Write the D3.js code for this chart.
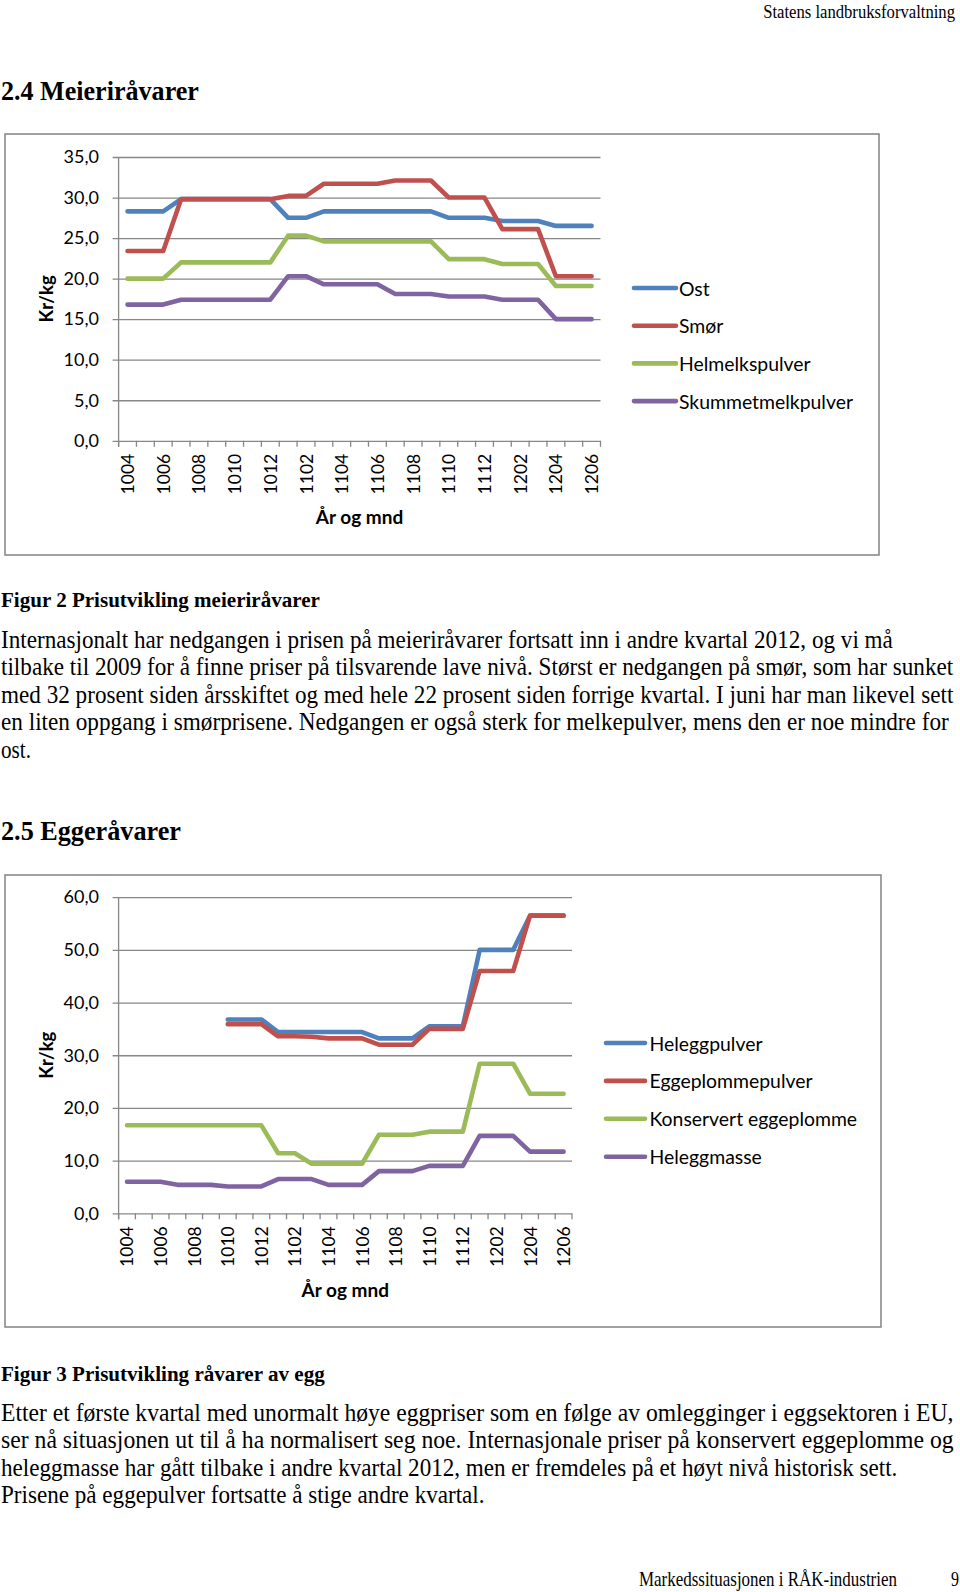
<!DOCTYPE html>
<html>
<head>
<meta charset="utf-8">
<script src="https://cdn.jsdelivr.net/npm/d3@7"></script>
<style>
html,body{margin:0;padding:0;background:#fff;}
svg{display:block;}
</style>
</head>
<body>
<div id="page"></div>
<script>
// ---------- DATA ----------
const months = ["1004","1005","1006","1007","1008","1009","1010","1011","1012",
  "1101","1102","1103","1104","1105","1106","1107","1108","1109","1110","1111","1112",
  "1201","1202","1203","1204","1205","1206"];
const tickLabels = ["1004","1006","1008","1010","1012","1102","1104","1106","1108","1110","1112","1202","1204","1206"];

// Figur 2 – meieriråvarer (Kr/kg)
const dairyNames = ["Ost","Smør","Helmelkspulver","Skummetmelkpulver"];
const ost      = [28.3,28.3,28.3,29.8,29.8,29.8,29.8,29.8,29.8,27.5,27.5,28.3,28.3,28.3,28.3,28.3,28.3,28.3,27.5,27.5,27.5,27.1,27.1,27.1,26.5,26.5,26.5];
const smor     = [23.4,23.4,23.4,29.8,29.8,29.8,29.8,29.8,29.8,30.2,30.2,31.7,31.7,31.7,31.7,32.1,32.1,32.1,30.0,30.0,30.0,26.1,26.1,26.1,20.3,20.3,20.3];
const helmelk  = [20.0,20.0,20.0,22.0,22.0,22.0,22.0,22.0,22.0,25.3,25.3,24.6,24.6,24.6,24.6,24.6,24.6,24.6,22.4,22.4,22.4,21.8,21.8,21.8,19.1,19.1,19.1];
const skummet  = [16.8,16.8,16.8,17.4,17.4,17.4,17.4,17.4,17.4,20.3,20.3,19.3,19.3,19.3,19.3,18.1,18.1,18.1,17.8,17.8,17.8,17.4,17.4,17.4,15.0,15.0,15.0];
const dairyTicks = [0,5,10,15,20,25,30,35];

// Figur 3 – råvarer av egg (Kr/kg)
const eggNames = ["Heleggpulver","Eggeplommepulver","Konservert eggeplomme","Heleggmasse"];
const heleggpulver = [null,null,null,null,null,null,36.8,36.8,36.8,34.4,34.4,34.4,34.4,34.4,34.4,33.2,33.2,33.2,35.5,35.5,35.5,50.0,50.0,50.0,56.5,56.5,56.5];
const eggeplomme   = [null,null,null,null,null,null,35.9,35.9,35.9,33.6,33.6,33.5,33.2,33.2,33.2,32.0,32.0,32.0,35.0,35.0,35.0,46.0,46.0,46.0,56.5,56.5,56.5];
const konservert   = [16.7,16.7,16.7,16.7,16.7,16.7,16.7,16.7,16.7,11.4,11.4,9.4,9.4,9.4,9.4,14.9,14.9,14.9,15.5,15.5,15.5,28.4,28.4,28.4,22.7,22.7,22.7];
const heleggmasse  = [6.0,6.0,6.0,5.4,5.4,5.4,5.1,5.1,5.1,6.5,6.5,6.5,5.4,5.4,5.4,8.0,8.0,8.0,9.0,9.0,9.0,14.7,14.7,14.7,11.7,11.7,11.7];
const eggTicks = [0,10,20,30,40,50,60];

const colors = ["#4F81BD","#C0504D","#9BBB59","#8064A2"];
const yTitle = "Kr/kg";
const xTitle = "År og mnd";

// ---------- PAGE ----------
const svg = d3.select("#page").append("svg").attr("width",960).attr("height",1592);
svg.append("rect").attr("width",960).attr("height",1592).attr("fill","#fff");

const serif = "'Liberation Serif','Times New Roman',serif";
const sans = "Lato,'Liberation Sans',sans-serif";

// Text drawn with a font size that gives the wanted width, then stretched
// vertically to the wanted glyph height (the page is a vertically stretched scan).
function txt(s, x, y, hSize, opts={}) {
  const t = svg.append("text").attr("x",0).attr("y",0)
    .attr("font-family", opts.family || serif)
    .attr("font-size", hSize)
    .attr("font-weight", opts.bold ? "bold" : "normal")
    .attr("fill","#000")
    .attr("text-anchor", opts.anchor || "start")
    .text(s);
  let fs = hSize;
  if (opts.len) {
    const w = t.node().getComputedTextLength();
    fs = hSize * opts.len / w;
    t.attr("font-size", fs);
  }
  t.attr("transform", `translate(${x},${y}) scale(1,${hSize/fs})`);
  return t;
}

// header / headings
txt("Statens landbruksforvaltning", 955, 18, 18, {anchor:"end", len:192});
txt("2.4  Meieriråvarer", 1, 100, 28, {bold:true, len:198});

// ---------- CHART FUNCTION ----------
function drawChart(cfg) {
  const g = svg.append("g");
  g.append("rect").attr("x",cfg.frame[0]).attr("y",cfg.frame[1])
    .attr("width",cfg.frame[2]-cfg.frame[0]).attr("height",cfg.frame[3]-cfg.frame[1])
    .attr("fill","#fff").attr("stroke","#8a8a8a").attr("stroke-width",1.6);

  const x = d3.scaleBand().domain(months).range([cfg.x0,cfg.x1]);
  const y = d3.scaleLinear().domain([0,d3.max(cfg.ticks)]).range([cfg.yb,cfg.yt]);
  const fmt = v => d3.format(".1f")(v).replace(".",",");

  // gridlines + y axis
  const yAxis = d3.axisLeft(y).tickValues(cfg.ticks).tickFormat(fmt)
    .tickSize(-(cfg.x1-cfg.x0)).tickSizeOuter(0).tickPadding(13);
  const ya = g.append("g").attr("transform",`translate(${cfg.x0},0)`).call(yAxis);
  ya.select(".domain").remove();
  ya.selectAll(".tick line").attr("stroke","#878787").attr("stroke-width",1.3).attr("x1",-6);
  ya.selectAll(".tick text").attr("font-family",sans).attr("font-size",18).attr("fill","#000")
    .attr("x",-19.6);
  g.append("line").attr("x1",cfg.x0).attr("x2",cfg.x0).attr("y1",cfg.yt).attr("y2",cfg.yb+6)
    .attr("stroke","#878787").attr("stroke-width",1.3);

  // x tick marks at category boundaries
  const bounds = months.map(m => x(m)).concat([cfg.x1]);
  g.selectAll("line.xt").data(bounds).enter().append("line")
    .attr("x1",d=>d).attr("x2",d=>d).attr("y1",cfg.yb).attr("y2",cfg.yb+6)
    .attr("stroke","#878787").attr("stroke-width",1.3);

  // x labels
  g.selectAll("text.xl").data(tickLabels).enter().append("text")
    .attr("transform",d=>`translate(${x(d)+x.bandwidth()/2},${cfg.yb+13}) rotate(-90)`)
    .attr("text-anchor","end").attr("dominant-baseline","central")
    .attr("font-family",sans).attr("font-size",17.5).attr("fill","#000").text(d=>d);

  // titles
  g.append("text").attr("transform",`translate(46,${(cfg.yt+cfg.yb)/2}) rotate(-90)`)
    .attr("text-anchor","middle").attr("dominant-baseline","central")
    .attr("font-family",sans).attr("font-weight","bold").attr("font-size",18.5).text(yTitle);
  g.append("text").attr("x",(cfg.x0+cfg.x1)/2).attr("y",cfg.yb+76)
    .attr("text-anchor","middle").attr("dominant-baseline","central")
    .attr("font-family",sans).attr("font-weight","bold").attr("font-size",19).text(xTitle);

  // series
  const line = d3.line().defined(d=>d.v!=null)
    .x(d=>x(d.m)+x.bandwidth()/2).y(d=>y(d.v));
  cfg.series.forEach((s,i)=>{
    g.append("path").datum(s.values.map((v,j)=>({m:months[j],v})))
      .attr("d",line).attr("fill","none").attr("stroke",colors[i])
      .attr("stroke-width",4.6).attr("stroke-linecap","round").attr("stroke-linejoin","round");
  });

  // legend
  cfg.series.forEach((s,i)=>{
    const ly = cfg.lg.y0 + i*cfg.lg.dy;
    g.append("line").attr("x1",cfg.lg.x0).attr("x2",cfg.lg.x1).attr("y1",ly).attr("y2",ly)
      .attr("stroke",colors[i]).attr("stroke-width",4.6).attr("stroke-linecap","round");
    g.append("text").attr("x",cfg.lg.tx).attr("y",ly).attr("dominant-baseline","central")
      .attr("font-family",sans).attr("font-size",19.4).attr("fill","#000").text(s.name);
  });
}

drawChart({
  frame:[5,134,879,555],
  x0:118.6, x1:600.5, yt:157, yb:440.8,
  ticks:dairyTicks,
  series:[ost,smor,helmelk,skummet].map((v,i)=>({name:dairyNames[i],values:v})),
  lg:{x0:634,x1:676,tx:679,y0:288,dy:37.7}
});

// Figure 2 caption and text
txt("Figur 2 Prisutvikling meieriråvarer", 1, 607, 21.5, {bold:true, len:319});
const para1 = [
  ["Internasjonalt har nedgangen i prisen på meieriråvarer fortsatt inn i andre kvartal 2012, og vi må", 892],
  ["tilbake til 2009 for å finne priser på tilsvarende lave nivå. Størst er nedgangen på smør, som har sunket", 953],
  ["med 32 prosent siden årsskiftet og med hele 22 prosent siden forrige kvartal. I juni har man likevel sett", 953],
  ["en liten oppgang i smørprisene. Nedgangen er også sterk for melkepulver, mens den er noe mindre for", 948],
  ["ost.", 30]
];
para1.forEach((l,i)=> txt(l[0], 1, 648 + i*27.4, 24.5, {len:l[1]}));

txt("2.5  Eggeråvarer", 1, 840, 28, {bold:true, len:180});

drawChart({
  frame:[5,875,881,1327],
  x0:118.6, x1:572, yt:897.2, yb:1213.3,
  ticks:eggTicks,
  series:[heleggpulver,eggeplomme,konservert,heleggmasse].map((v,i)=>({name:eggNames[i],values:v})),
  lg:{x0:606,x1:645,tx:649.5,y0:1043,dy:37.9}
});

txt("Figur 3 Prisutvikling råvarer av egg", 1, 1381, 21.5, {bold:true, len:324});
const para2 = [
  ["Etter et første kvartal med unormalt høye eggpriser som en følge av omlegginger i eggsektoren i EU,", 953],
  ["ser nå situasjonen ut til å ha normalisert seg noe. Internasjonale priser på konservert eggeplomme og", 953],
  ["heleggmasse har gått tilbake i andre kvartal 2012, men er fremdeles på et høyt nivå historisk sett.", 897],
  ["Prisene på eggepulver fortsatte å stige andre kvartal.", 484]
];
para2.forEach((l,i)=> txt(l[0], 1, 1421 + i*27.4, 24.5, {len:l[1]}));

// footer
txt("Markedssituasjonen i RÅK-industrien", 639, 1586, 21, {len:258});
txt("9", 951, 1586, 21, {len:8});
</script>
</body>
</html>
